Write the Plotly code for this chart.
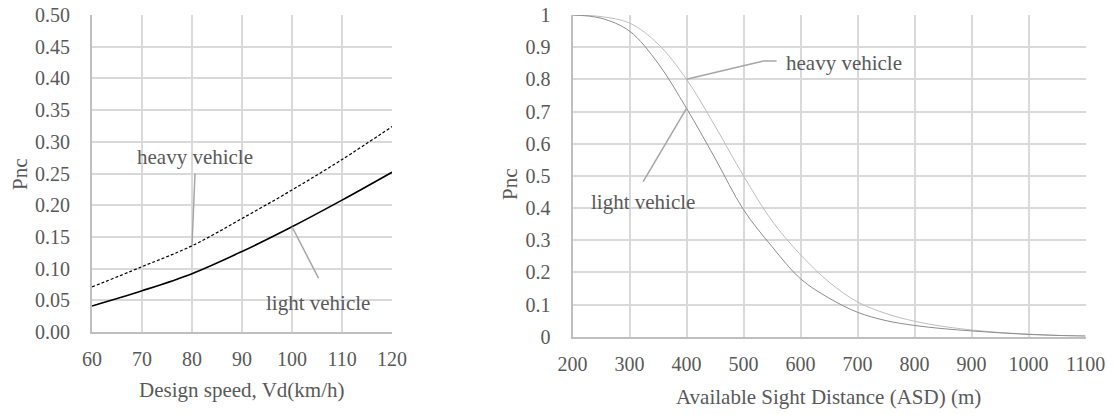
import plotly.graph_objects as go

# Left chart data
speed = [60, 70, 80, 90, 100, 110, 120]
pnc_light_speed = [0.041, 0.065, 0.092, 0.127, 0.166, 0.208, 0.252]
pnc_heavy_speed = [0.071, 0.103, 0.136, 0.179, 0.224, 0.272, 0.324]

# Right chart data
asd = [200, 250, 300, 350, 400, 450, 500, 550, 600, 650, 700, 750, 800, 850, 900, 950, 1000, 1050, 1100]
pnc_light_asd = [1.0, 0.99, 0.95, 0.85, 0.71, 0.555, 0.395, 0.28, 0.18, 0.12, 0.076, 0.05, 0.035,
                 0.025, 0.018, 0.012, 0.007, 0.004, 0.002]
pnc_heavy_asd = [1.0, 0.995, 0.975, 0.91, 0.80, 0.655, 0.50, 0.36, 0.255, 0.17, 0.108, 0.072, 0.048,
                 0.032, 0.021, 0.013, 0.008, 0.004, 0.002]

left_yticks = [round(i * 0.05, 2) for i in range(11)]
right_yticks = [round(i * 0.1, 1) for i in range(11)]
right_ytext = ["0", "0.1", "0.2", "0.3", "0.4", "0.5", "0.6", "0.7", "0.8", "0.9", "1"]

W, H = 1115, 415
FONT = "Liberation Serif"
TXT = "#595959"
GRID = "#d9d9d9"
ANN = "#a6a6a6"
FS = 20
FT = 21

fig = go.Figure()

fig.add_trace(go.Scatter(x=speed, y=pnc_heavy_speed, mode="lines", line=dict(color="black", width=1.2, dash="3px,2px", shape="spline"),
                         xaxis="x", yaxis="y", showlegend=False))
fig.add_trace(go.Scatter(x=speed, y=pnc_light_speed, mode="lines", line=dict(color="black", width=1.6, shape="spline"),
                         xaxis="x", yaxis="y", showlegend=False))
fig.add_trace(go.Scatter(x=asd, y=pnc_heavy_asd, mode="lines", line=dict(color="#bdbdbd", width=1, shape="spline"),
                         xaxis="x2", yaxis="y2", showlegend=False))
fig.add_trace(go.Scatter(x=asd, y=pnc_light_asd, mode="lines", line=dict(color="#8c8c8c", width=1, shape="spline"),
                         xaxis="x2", yaxis="y2", showlegend=False))

# leader lines (left)
fig.add_trace(go.Scatter(x=[80.6, 80], y=[0.25, 0.136], mode="lines", line=dict(color=ANN, width=1.5),
                         xaxis="x", yaxis="y", showlegend=False, hoverinfo="skip"))
fig.add_trace(go.Scatter(x=[100, 105.3], y=[0.166, 0.085], mode="lines", line=dict(color=ANN, width=1.5),
                         xaxis="x", yaxis="y", showlegend=False, hoverinfo="skip"))
# leader lines (right)
fig.add_trace(go.Scatter(x=[400, 535, 558], y=[0.80, 0.857, 0.857], mode="lines", line=dict(color=ANN, width=1.5),
                         xaxis="x2", yaxis="y2", showlegend=False, hoverinfo="skip"))
fig.add_trace(go.Scatter(x=[400, 324], y=[0.71, 0.482], mode="lines", line=dict(color=ANN, width=1.5),
                         xaxis="x2", yaxis="y2", showlegend=False, hoverinfo="skip"))

axis_common = dict(showgrid=True, gridcolor=GRID, gridwidth=2, zeroline=False, showline=True, automargin=False,
                   linecolor="#bfbfbf", linewidth=2, ticks="", tickfont=dict(family=FONT, size=FS, color=TXT))

fig.update_layout(
    width=W, height=H, margin=dict(l=0, r=0, t=0, b=0, autoexpand=False),
    paper_bgcolor="white", plot_bgcolor="white",
    xaxis=dict(domain=[92 / W, 392 / W], range=[60, 120], tickvals=speed, anchor="y",
               ticklabelstandoff=8, **axis_common),
    yaxis=dict(domain=[1 - 332 / H, 1 - 15 / H], range=[0, 0.5], tickvals=left_yticks, tickformat=".2f",
               anchor="x", ticklabelstandoff=16, **axis_common),
    xaxis2=dict(domain=[572.5 / W, 1085.5 / W], range=[200, 1100], tickvals=list(range(200, 1101, 100)),
                anchor="y2", ticklabelstandoff=8, **axis_common),
    yaxis2=dict(domain=[1 - 336.7 / H, 1 - 15 / H], range=[0, 1], tickvals=right_yticks, ticktext=right_ytext,
                anchor="x2", ticklabelstandoff=16, **axis_common),
)

def paper_text(text, x, y, angle=0, size=FT):
    fig.add_annotation(text=text, x=x / W, y=1 - y / H, xref="paper", yref="paper", showarrow=False,
                       textangle=angle, font=dict(family=FONT, size=size, color=TXT),
                       xanchor="center", yanchor="middle")

paper_text("Design speed, Vd(km/h)", 242, 390)
paper_text("Pnc", 20, 174, angle=-90)
paper_text("Available Sight Distance (ASD) (m)", 829, 397)
paper_text("Pnc", 510, 184, angle=-90)

def data_text(text, x, y, xr, yr, xanchor="center"):
    fig.add_annotation(text=text, x=x, y=y, xref=xr, yref=yr, showarrow=False,
                       font=dict(family=FONT, size=FT, color=TXT), xanchor=xanchor, yanchor="middle")

data_text("heavy vehicle", 80.6, 0.276, "x", "y")
data_text("light vehicle", 105.2, 0.045, "x", "y")
data_text("heavy vehicle", 571, 0.85, "x2", "y2", xanchor="left")
data_text("light vehicle", 324, 0.42, "x2", "y2")

fig.write_html("out.html")
